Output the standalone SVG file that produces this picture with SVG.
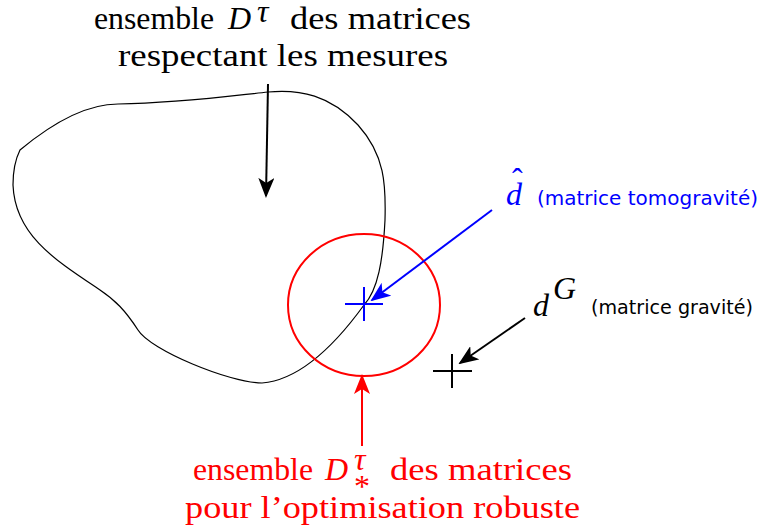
<svg xmlns="http://www.w3.org/2000/svg" width="762" height="531" viewBox="0 0 762 531">
<style>
.serif{font-family:"Liberation Serif","DejaVu Serif",serif;font-size:32px}
.sans{font-family:"DejaVu Sans",sans-serif;font-size:19px}
.it{font-style:italic}
</style>
<defs>
<marker id="ak" viewBox="0 0 20 16" refX="18" refY="8" markerWidth="20" markerHeight="16" markerUnits="userSpaceOnUse" orient="auto"><path d="M0,0 L20,8 L0,16 L5,8 Z" fill="#000"/></marker>
<marker id="ab" viewBox="0 0 20 16" refX="18" refY="8" markerWidth="20" markerHeight="16" markerUnits="userSpaceOnUse" orient="auto"><path d="M0,0 L20,8 L0,16 L5,8 Z" fill="#00f"/></marker>
<marker id="ar" viewBox="0 0 20 16" refX="18" refY="8" markerWidth="20" markerHeight="16" markerUnits="userSpaceOnUse" orient="auto"><path d="M0,0 L20,8 L0,16 L5,8 Z" fill="#f00"/></marker>
</defs>
<rect width="762" height="531" fill="#fff"/>
<g id="blob">
<path d="M20,150 C50,125 85,104 118,104 C180,103 230,96 268,92 C300,89 330,95 358,125 C385,155 386,185 385,220 C383,260 378,290 364,305 C335,345 300,380 262,383 C230,383 150,350 138,330 C125,310 115,300 100,290 C55,260 15,235 13,185 C13,168 16,158 20,150 Z" fill="none" stroke="#000" stroke-width="1.2"/>
</g>
<g id="robust">
<ellipse cx="364" cy="305" rx="76" ry="71" fill="none" stroke="#f00" stroke-width="2"/>
</g>
<g id="dhat-point">
<path d="M345,304 H383 M364,287 V321" stroke="#00f" stroke-width="2"/>
</g>
<g id="dG-point">
<path d="M433,371 H472 M452,354 V388" stroke="#000" stroke-width="2"/>
</g>
<g id="connectors" fill="none" stroke-width="2">
<path d="M268,84 L266,196" stroke="#000" marker-end="url(#ak)"/>
<path d="M492,210 L372,300" stroke="#00f" marker-end="url(#ab)"/>
<path d="M525,318 L460,363" stroke="#000" marker-end="url(#ak)"/>
<path d="M362,446 L362,376" stroke="#f00" marker-end="url(#ar)"/>
</g>
<g id="label-D">
<text class="serif" x="94" y="29" textLength="120" lengthAdjust="spacingAndGlyphs">ensemble</text>
<text class="serif it" x="228" y="29" font-size="33">D</text>
<text class="serif it" x="257" y="22" font-size="19">τ</text>
<text class="serif" x="290" y="29" textLength="181" lengthAdjust="spacingAndGlyphs">des matrices</text>
<text class="serif" x="118" y="66" textLength="330" lengthAdjust="spacingAndGlyphs">respectant les mesures</text>
</g>
<g id="label-dhat" fill="#00f">
<text class="serif it" x="506" y="205" font-size="33" fill="#00f">d</text>
<text class="serif" x="512" y="190" font-size="26" fill="#00f">ˆ</text>
<text class="sans" x="537" y="205" textLength="221" lengthAdjust="spacingAndGlyphs" fill="#00f">(matrice tomogravité)</text>
</g>
<g id="label-dG">
<text class="serif it" x="533" y="316" font-size="33">d</text>
<text class="serif it" x="553" y="299" font-size="22">G</text>
<text class="sans" x="591" y="314" textLength="162" lengthAdjust="spacingAndGlyphs">(matrice gravité)</text>
</g>
<g id="label-Dstar" fill="#f00">
<text class="serif" x="193" y="480" textLength="120" lengthAdjust="spacingAndGlyphs" fill="#f00">ensemble</text>
<text class="serif it" x="325" y="480" font-size="33" fill="#f00">D</text>
<text class="serif it" x="354" y="470" font-size="19" fill="#f00">τ</text>
<text class="serif" x="354" y="497" font-size="20" fill="#f00">*</text>
<text class="serif" x="390" y="480" textLength="182" lengthAdjust="spacingAndGlyphs" fill="#f00">des matrices</text>
<text class="serif" x="185" y="518" textLength="395" lengthAdjust="spacingAndGlyphs" fill="#f00">pour l’optimisation robuste</text>
</g>
</svg>
